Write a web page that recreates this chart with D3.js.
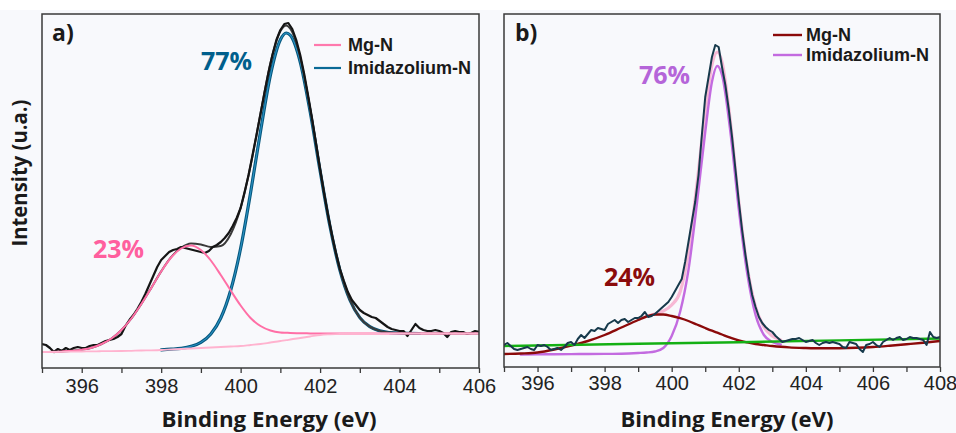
<!DOCTYPE html>
<html>
<head>
<meta charset="utf-8">
<script src="https://cdn.jsdelivr.net/npm/d3@7"></script>
<style>
body { margin: 0; background: #f8f9fc; }
svg { display: block; }
</style>
</head>
<body>
<div id="chart"></div>
<script>
// ---------- panel a : measured spectrum (0.1 eV steps from 395 eV) ----------
const aExpStart = 395, aExpStep = 0.1;
const aExp = [
  24, 23, 20, 16, 19, 17, 20, 18, 20, 21,
  20, 20, 22, 23, 23, 25, 27, 28, 29, 31,
  34, 42, 48, 53, 59, 66, 74, 83, 92, 101,
  108, 112, 116, 118, 119, 121, 120, 119, 118, 117,
  116, 115, 117, 121, 123, 126, 130, 135, 142, 150,
  160, 176, 193, 213, 233, 254, 275, 295, 313, 328,
  338, 344, 345, 339, 328, 313, 294, 272, 249, 224,
  199, 175, 153, 133, 115, 99, 87, 76, 68, 63,
  58, 55, 53, 51, 50, 47, 44, 41, 39, 38,
  37, 37, 32, 38, 44, 40, 38, 37, 37, 38,
  37, 35, 31, 36, 37, 36, 36, 34, 35, 37,
  36
];

// panel a : fit components
const aFitE = [395, 395.5, 396, 396.25, 396.5, 396.75, 397, 397.25, 397.5, 397.75,
  398, 398.25, 398.5, 398.75, 399, 399.25, 399.5, 399.75, 400, 400.25,
  400.5, 400.75, 401, 401.15, 401.25, 401.5, 401.75, 402, 402.25, 402.5,
  402.75, 403, 403.25, 403.5, 403.75, 404, 404.5, 405, 405.5, 406];
const aBase = [16, 16.2, 16.5, 16.6, 16.8, 16.9, 17, 17.2, 17.5, 17.7,
  18, 18.5, 19, 19.5, 20, 20.5, 21, 21.5, 22, 23,
  24, 25.5, 27, 27.8, 28.5, 30, 31.5, 33, 33.7, 34.2,
  34.4, 34.5, 34.5, 34.5, 34.5, 34.5, 34.5, 34.5, 34.5, 34.5];
const aMgN = [16.1, 16.6, 18.3, 20.3, 24, 29.5, 38, 49.5, 64, 80,
  96.5, 110.5, 119.5, 122.5, 118, 107.5, 93, 77.5, 62.5, 50,
  42, 37.5, 35.5, 35.2, 35, 34.8, 34.6, 34.5, 34.5, 34.5,
  34.5, 34.5, 34.5, 34.5, 34.5, 34.5, 34.5, 34.5, 34.5, 34.5];
const aImid = [null, null, null, null, null, null, null, null, null, null,
  18.1, 18.8, 19.7, 21.6, 25.6, 34, 50, 77.8, 119.7, 175.3,
  236.5, 292.9, 328.2, 335, 332.8, 306, 256.2, 197.2, 141.5, 97.6,
  68, 50.4, 41.3, 37.1, 35.4, 34.8, 34.5, null, null, null];
const aEnv = [16, 16.6, 18.3, 20.3, 24, 29.5, 38, 49.5, 64, 80.1,
  96.6, 110.8, 120.2, 124.6, 123.6, 121, 122, 133.8, 160.2, 202.3,
  254.5, 304.9, 336.7, 342.4, 339.3, 310.8, 259.3, 198.7, 142.3, 97.9,
  68.1, 50.4, 41.3, 37.1, 35.4, 34.8, 34.5, 34.5, 34.5, 34.5];

// ---------- panel b : measured spectrum (0.1 eV steps from 395 eV) ----------
const bExpStart = 395, bExpStep = 0.1;
const bExp = [
  22, 24, 21, 18, 17, 18, 19, 20, 18, 17,
  22, 21, 22, 20, 17, 18, 19, 17, 20, 24,
  25, 22, 28, 32, 29, 33, 37, 36, 39, 38,
  37, 43, 45, 47, 44, 47, 48, 45, 47, 49,
  49, 51, 55, 50, 51, 53, 56, 59, 62, 65,
  70, 76, 82, 88, 105, 125, 145, 165, 192, 232,
  270, 290, 310, 322, 320, 300, 282, 258, 230, 198,
  166, 137, 112, 90, 72, 60, 50, 44, 40, 37,
  35, 31, 28, 25, 26, 27, 28, 28, 29, 27,
  25, 26, 27, 24, 22, 24, 25, 24, 25, 24,
  23, 20, 19, 25, 24, 23, 18, 15, 22, 23,
  25, 22, 20, 25, 27, 29, 27, 29, 30, 27,
  28, 30, 29, 29, 28, 27, 22, 35, 30, 29,
  30
];

// panel b : fit components
const bFitE = [395, 395.5, 396, 396.5, 397, 397.5, 398, 398.5, 399, 399.25,
  399.5, 399.75, 400, 400.25, 400.5, 400.75, 401, 401.2, 401.36, 401.5,
  401.75, 402, 402.25, 402.5, 402.75, 403, 403.25, 403.5, 404, 404.5,
  405, 405.5, 406, 406.5, 407, 407.5, 408];
const bMgN = [13, 13.5, 14.5, 17.5, 21.5, 26, 32, 39.5, 47, 50.5,
  52.5, 52.5, 51, 48.8, 46, 42.5, 39, 36.3, 34.3, 32.5,
  29.3, 26.5, 24.6, 23, 22, 21, 20.2, 19.6, 19, 18.7,
  18.8, 19.2, 20, 21.3, 22.8, 24.3, 26];
const bImid = [null, 12.5, 12.6, 12.8, 12.9, 13, 13.1, 13.3, 14, 14.5,
  15.5, 19, 31, 55, 97, 163, 235, 285, 301, 292,
  235, 158, 94, 52, 32, 25, 22.5, null, null, null,
  null, null, null, null, null, null, null];
const bEnv = [null, null, null, null, null, null, null, null, null, 51,
  53, 56, 62, 75, 115, 182, 255, 302, 315, 305,
  245, 165, 100, 60, 40, 31, 27, null, null, null,
  null, null, null, null, null, null, null];
const bBgE = [395, 399, 402, 405, 408];
const bBg = [21, 23.2, 24.8, 26.6, 28.5];

const aTicks = d3.range(395, 407);
const bTicks = d3.range(395, 409);

const W = 956, H = 433;
const svg = d3.select('#chart').append('svg')
  .attr('width', W)
  .attr('height', H);

svg.append('rect').attr('width', W).attr('height', 10).attr('fill', '#ffffff');

const defs = svg.append('defs');

function panel(id, box, domain, yMax, ticks, pad) {
  const x = d3.scaleLinear().domain(domain).range([box.x0, box.x1]);
  const y = d3.scaleLinear().domain([0, yMax]).range([box.y1, box.y0]);

  defs.append('clipPath').attr('id', 'clip-' + id)
    .append('rect')
    .attr('x', box.x0).attr('y', box.y0)
    .attr('width', box.x1 - box.x0).attr('height', box.y1 - box.y0);

  const g = svg.append('g');
  const plot = g.append('g').attr('clip-path', 'url(#clip-' + id + ')');

  const axis = g.append('g')
    .attr('transform', 'translate(0,' + box.y1 + ')')
    .call(d3.axisBottom(x)
      .tickValues(ticks)
      .tickSize(5)
      .tickSizeOuter(0)
      .tickPadding(pad)
      .tickFormat(d => d % 2 === 0 ? d : ''));
  axis.select('.domain').remove();
  axis.selectAll('.tick line').attr('stroke', '#3a3a3a').attr('stroke-width', 1.3);
  axis.selectAll('.tick text')
    .attr('fill', '#222')
    .style('font-family', '"Liberation Sans", Arial, sans-serif')
    .style('font-size', '20px');

  g.append('rect')
    .attr('x', box.x0).attr('y', box.y0)
    .attr('width', box.x1 - box.x0).attr('height', box.y1 - box.y0)
    .attr('fill', 'none')
    .attr('stroke', '#3a3a3a')
    .attr('stroke-width', 1.5);

  return { x, y, g, plot };
}

function drawLine(p, xs, ys, color, width, curve) {
  const pts = xs.map((e, i) => [e, ys[i]]);
  p.plot.append('path')
    .datum(pts)
    .attr('fill', 'none')
    .attr('stroke', color)
    .attr('stroke-width', width)
    .attr('stroke-linejoin', 'round')
    .attr('stroke-linecap', 'round')
    .attr('d', d3.line()
      .defined(d => d[1] != null)
      .x(d => p.x(d[0]))
      .y(d => p.y(d[1]))
      .curve(curve || d3.curveLinear));
}

function expEnergies(start, step, n) {
  return d3.range(n).map(i => +(start + i * step).toFixed(2));
}

function label(p, txt, x, y, color, size, family, anchor) {
  p.g.append('text')
    .attr('x', x).attr('y', y)
    .attr('fill', color)
    .attr('text-anchor', anchor || 'start')
    .style('font-family', family)
    .style('font-weight', 700)
    .style('font-size', size + 'px')
    .text(txt);
}

const titleFont = '"Open Sans", "DejaVu Sans", sans-serif';
const legFont = '"Liberation Sans", Arial, sans-serif';

// ---------- panel a ----------
const pa = panel('a', { x0: 42, x1: 479, y0: 14, y1: 368 }, [395, 406], 354, aTicks, 6);
const smooth = d3.curveMonotoneX;

drawLine(pa, aFitE, aImid, '#06577d', 3.2, smooth);
drawLine(pa, aFitE, aImid, '#2a92c4', 1.1, smooth);
drawLine(pa, aFitE, aEnv, '#3a3a3a', 2, smooth);
drawLine(pa, expEnergies(aExpStart, aExpStep, aExp.length), aExp, '#151515', 2.2);
drawLine(pa, aFitE, aMgN, '#ff6fa6', 2, smooth);
drawLine(pa, aFitE, aBase, '#ffb3cf', 1.8, smooth);

label(pa, 'a)', 52, 41, '#1a1a1a', 23, titleFont);
label(pa, '77%', 201, 70, '#005f8c', 25, titleFont);
label(pa, '23%', 93, 258, '#ff5f9e', 25, titleFont);

const legA = [
  { name: 'Mg-N', color: '#ff79ad', y: 45 },
  { name: 'Imidazolium-N', color: '#0a6a96', y: 68 }
];
legA.forEach(d => {
  pa.g.append('line')
    .attr('x1', 314).attr('x2', 341)
    .attr('y1', d.y).attr('y2', d.y)
    .attr('stroke', d.color).attr('stroke-width', 2.2);
  label(pa, d.name, 348, d.y + 6, '#1a1a1a', 18, legFont);
});

pa.g.append('text')
  .attr('x', 269).attr('y', 427)
  .attr('text-anchor', 'middle')
  .attr('textLength', 215)
  .attr('lengthAdjust', 'spacingAndGlyphs')
  .attr('fill', '#1a1a1a')
  .style('font-family', titleFont)
  .style('font-weight', 700)
  .style('font-size', '22px')
  .text('Binding Energy (eV)');

pa.g.append('text')
  .attr('transform', 'translate(27,173) rotate(-90)')
  .attr('text-anchor', 'middle')
  .attr('textLength', 147)
  .attr('lengthAdjust', 'spacingAndGlyphs')
  .attr('fill', '#1a1a1a')
  .style('font-family', titleFont)
  .style('font-weight', 700)
  .style('font-size', '21px')
  .text('Intensity (u.a.)');

// ---------- panel b ----------
const pb = panel('b', { x0: 504, x1: 940, y0: 14, y1: 367 }, [395, 408], 353, bTicks, 4);

drawLine(pb, bFitE, bEnv, '#f7b8d4', 3.2, smooth);
drawLine(pb, bFitE, bImid, '#c36be0', 2.4, smooth);
drawLine(pb, bFitE, bMgN, '#8b0a0a', 2.4, smooth);
drawLine(pb, bBgE, bBg, '#14b014', 2.4);
drawLine(pb, expEnergies(bExpStart, bExpStep, bExp.length), bExp, '#173a4c', 2);

label(pb, 'b)', 515, 41, '#1a1a1a', 23, titleFont);
label(pb, '76%', 639, 84, '#b565d9', 25, titleFont);
label(pb, '24%', 604, 286, '#8b0c0c', 25, titleFont);

const legB = [
  { name: 'Mg-N', color: '#8b0a0a', y: 35 },
  { name: 'Imidazolium-N', color: '#c36be0', y: 55 }
];
legB.forEach(d => {
  pb.g.append('line')
    .attr('x1', 773).attr('x2', 802)
    .attr('y1', d.y).attr('y2', d.y)
    .attr('stroke', d.color).attr('stroke-width', 2.4);
  label(pb, d.name, 806, d.y + 6, '#1a1a1a', 18, legFont);
});

pb.g.append('text')
  .attr('x', 727).attr('y', 427)
  .attr('text-anchor', 'middle')
  .attr('textLength', 213)
  .attr('lengthAdjust', 'spacingAndGlyphs')
  .attr('fill', '#1a1a1a')
  .style('font-family', titleFont)
  .style('font-weight', 700)
  .style('font-size', '22px')
  .text('Binding Energy (eV)');
</script>
</body>
</html>
